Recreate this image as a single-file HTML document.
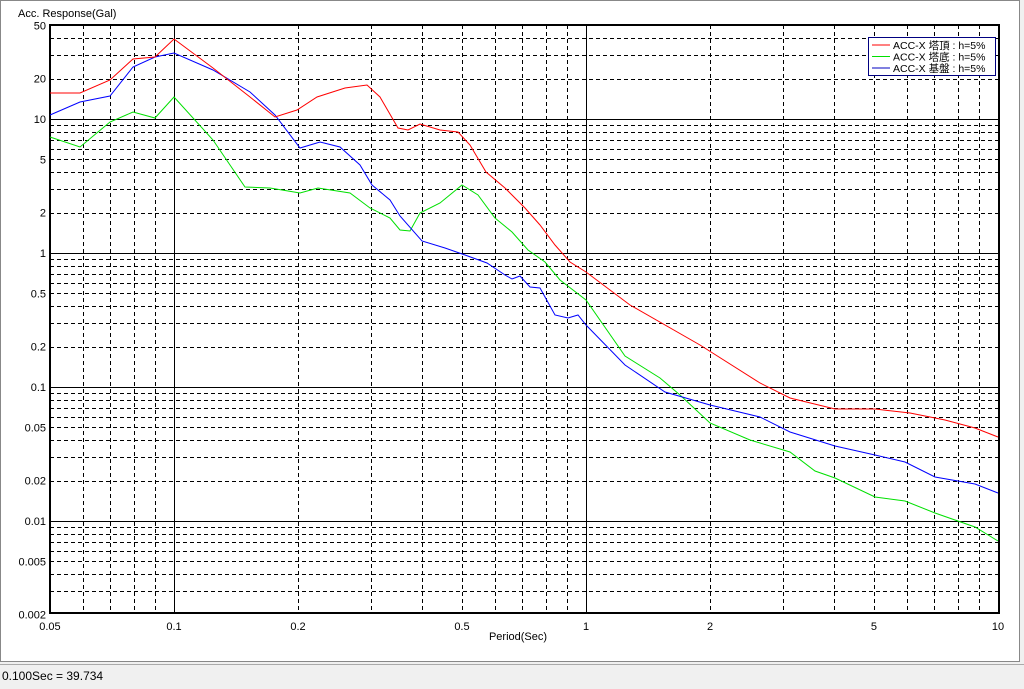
<!DOCTYPE html>
<html><head><meta charset="utf-8"><style>
body{margin:0;width:1024px;height:688px;background:#f0f0f0;overflow:hidden;font-family:"Liberation Sans","Noto Sans CJK JP",sans-serif}
#panel{position:absolute;left:0;top:0;width:1020px;height:662px;background:#fff;border:1px solid #888;box-sizing:border-box}
#status{position:absolute;left:0;top:664px;width:1024px;height:24px;background:#f0f0f0;border-top:1px solid #aaa;font-size:12px;line-height:22px;padding-left:2px}
svg{position:absolute;left:0;top:0}
</style></head><body>
<div id="panel"></div>
<svg id="s" width="1024" height="662" font-family="Liberation Sans, Noto Sans CJK JP, sans-serif" font-size="11"></svg>
<div id="status">0.100Sec = 39.734</div>
<script>
var s=document.getElementById('s'),h='';
function X(p){return 586+412*Math.log10(p)}
function Y(v){return 253-134*Math.log10(v)}
var L=50,R=999,T=25,B=613;
// vertical grid
[0.1,1,10].forEach(function(d){for(var m=1;m<10;m++){var p=d*m/10*10/10;p=d*m/1;}});
var xs=[];for(var m=5;m<10;m++)xs.push(m/100);for(var m=1;m<10;m++)xs.push(m/10);for(var m=1;m<=10;m++)xs.push(m);
xs.forEach(function(p){var x=Math.round(X(p))+0.5;if(x<=L+1||x>=R-1)return;var sol=Math.abs(Math.log10(p)-Math.round(Math.log10(p)))<1e-9;
h+='<line x1="'+x+'" y1="'+T+'" x2="'+x+'" y2="'+B+'" stroke="#000" stroke-width="1"'+(sol?'':' stroke-dasharray="4,3"')+'/>';});
var ys=[];[0.001,0.01,0.1,1,10].forEach(function(d){for(var m=1;m<10;m++)ys.push(d*m)});ys.push(50);
ys.forEach(function(v){var y=Math.round(Y(v))+0.5;if(y<=T+1||y>=B-1)return;var sol=Math.abs(Math.log10(v)-Math.round(Math.log10(v)))<1e-9;
h+='<line x1="'+L+'" y1="'+y+'" x2="'+R+'" y2="'+y+'" stroke="#000" stroke-width="1"'+(sol?'':' stroke-dasharray="4,3"')+'/>';});
h+='<rect x="'+L+'" y="'+T+'" width="'+(R-L)+'" height="'+(B-T)+'" fill="none" stroke="#000" stroke-width="2"/>';
[[50,'50'],[20,'20'],[10,'10'],[5,'5'],[2,'2'],[1,'1'],[0.5,'0.5'],[0.2,'0.2'],[0.1,'0.1'],[0.05,'0.05'],[0.02,'0.02'],[0.01,'0.01'],[0.005,'0.005'],[0.002,'0.002']].forEach(function(a){
h+='<text x="46" y="'+(Y(a[0])+4)+'" text-anchor="end">'+a[1]+'</text>';});
[[0.05,'0.05'],[0.1,'0.1'],[0.2,'0.2'],[0.5,'0.5'],[1,'1'],[2,'2'],[5,'5'],[10,'10']].forEach(function(a){
h+='<text x="'+X(a[0])+'" y="630" text-anchor="middle">'+a[1]+'</text>';});
h+='<text x="18" y="17">Acc. Response(Gal)</text><text x="518" y="640" text-anchor="middle">Period(Sec)</text>';
var red=[[50,93],[80,93],[110,80],[133,59],[155,57],[174,39],[213,68],[250,97],[275,117],[297,110],[317,97],[345,88],[367,85],[380,97],[398,128],[408,130],[420,124],[440,130],[458,132],[470,145],[486,172],[505,188],[525,208],[540,225],[555,245],[570,262],[586,272],[630,305],[700,345],[760,383],[790,398],[835,409],[875,409],[910,413],[945,420],[975,428],[998,437]];
var green=[[50,137],[80,147],[110,122],[133,112],[155,118],[174,97],[213,140],[245,187],[270,188],[300,193],[318,188],[350,193],[370,208],[390,218],[400,230],[410,231],[420,213],[440,203],[462,185],[478,195],[495,218],[512,232],[528,250],[545,262],[560,280],[586,300],[625,356],[660,378],[680,395],[710,423],[750,440],[790,452],[815,471],[835,478],[875,497],[905,501],[935,513],[975,527],[998,541]];
var blue=[[50,115],[80,102],[110,96],[133,67],[155,57],[174,53],[213,70],[250,92],[275,115],[300,148],[320,142],[340,147],[360,165],[372,185],[390,200],[400,216],[422,241],[445,248],[465,255],[487,263],[505,275],[512,279],[520,276],[530,287],[540,288],[555,315],[568,318],[578,315],[586,325],[625,365],[665,392],[710,405],[760,417],[790,432],[835,446],[875,455],[905,462],[935,477],[975,484],[998,493]];
function pl(d,c){h+='<polyline fill="none" stroke="'+c+'" stroke-width="1" points="'+d.map(function(p){return p.join(',')}).join(' ')+'"/>';}
pl(green,'#00e000');pl(blue,'#0000ff');pl(red,'#ff0000');
h+='<rect x="868.5" y="37.5" width="127" height="38" fill="#fff" stroke="#000080"/>';
[['#ff0000','ACC-X 塔頂 : h=5%'],['#00e000','ACC-X 塔底 : h=5%'],['#0000c0','ACC-X 基盤 : h=5%']].forEach(function(a,i){var y=45+i*11.5;
h+='<line x1="872" y1="'+y+'" x2="890" y2="'+y+'" stroke="'+a[0]+'"/><text x="893" y="'+(y+4)+'" font-size="10.5">'+a[1]+'</text>';});
s.innerHTML=h;
</script>
</body></html>
